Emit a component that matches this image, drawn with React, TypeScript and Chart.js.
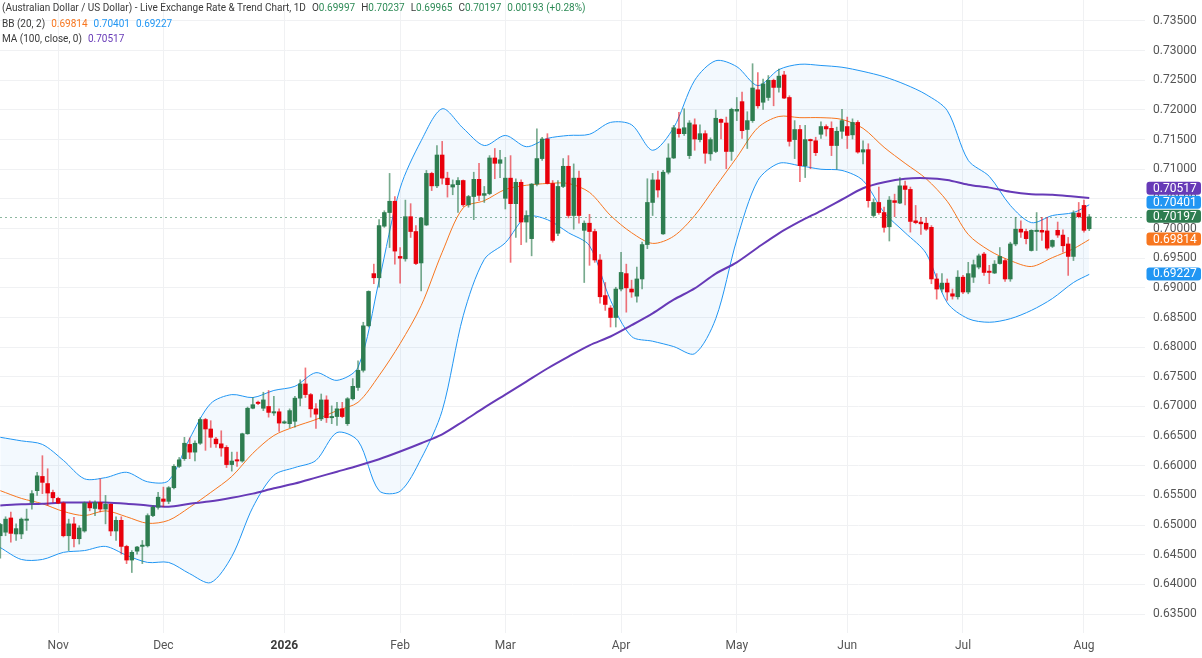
import React, { useEffect, useRef } from 'react';
import { Chart, registerables } from 'chart.js';

Chart.register(...registerables);

// ---- Daily candles (trading-day index 0 = first visible candle, Oct 2025 .. 4 Aug 2026) ----
const OPEN = [
  0.6482, 0.6488, 0.6512, 0.6485, 0.6485, 0.6508, 0.6538, 0.6558, 0.6582, 0.6570,
  0.6555, 0.6545, 0.6537, 0.6482, 0.6502, 0.6477, 0.6490, 0.6537, 0.6528, 0.6538,
  0.6527, 0.6535, 0.6490, 0.6508, 0.6464, 0.6441, 0.6456, 0.6464, 0.6465, 0.6516,
  0.6530, 0.6544, 0.6540, 0.6563, 0.6599, 0.6612, 0.6636, 0.6623, 0.6638, 0.6678,
  0.6662, 0.6645, 0.6637, 0.6631, 0.6602, 0.6610, 0.6608, 0.6654, 0.6697, 0.6707,
  0.6697, 0.6700, 0.6689, 0.6691, 0.6672, 0.6671, 0.6675, 0.6714, 0.6738, 0.6720,
  0.6696, 0.6679, 0.6711, 0.6681, 0.6683, 0.6696, 0.6671, 0.6713, 0.6732, 0.6761,
  0.6836, 0.6924, 0.6917, 0.7004, 0.7027, 0.7046, 0.6953, 0.6949, 0.7020, 0.6995,
  0.6942, 0.7006, 0.7093, 0.7072, 0.7124, 0.7085, 0.7070, 0.7074, 0.7081, 0.7040,
  0.7054, 0.7083, 0.7056, 0.7059, 0.7119, 0.7110, 0.7051, 0.7085, 0.7042, 0.7078,
  0.7011, 0.6983, 0.7075, 0.7118, 0.7151, 0.7076, 0.6992, 0.7071, 0.7105, 0.7022,
  0.7085, 0.6997, 0.7009, 0.6995, 0.6947, 0.6887, 0.6866, 0.6850, 0.6898, 0.6924,
  0.6898, 0.6886, 0.6915, 0.6973, 0.7044, 0.7082, 0.6991, 0.7095, 0.7119, 0.7168,
  0.7160, 0.7123, 0.7175, 0.7150, 0.7160, 0.7126, 0.7130, 0.7184, 0.7178, 0.7130,
  0.7198, 0.7214, 0.7167, 0.7182, 0.7234, 0.7213, 0.7221, 0.7250, 0.7238, 0.7259,
  0.7221, 0.7150, 0.7167, 0.7106, 0.7150, 0.7148, 0.7159, 0.7172, 0.7169, 0.7140,
  0.7164, 0.7172, 0.7158, 0.7179, 0.7129, 0.7133, 0.7022, 0.7044, 0.7027, 0.7003,
  0.7047, 0.7043, 0.7072, 0.7066, 0.7013, 0.7011, 0.7009, 0.7002, 0.6915, 0.6898,
  0.6908, 0.6890, 0.6885, 0.6918, 0.6893, 0.6918, 0.6935, 0.6957, 0.6928, 0.6925,
  0.6941, 0.6946, 0.6915, 0.6974, 0.6999, 0.6995, 0.6963, 0.6995, 0.6997, 0.6996,
  0.6970, 0.6997, 0.6989, 0.6974, 0.6953, 0.7026, 0.7039, 0.69997,
];
const HIGH = [
  0.6503, 0.6514, 0.6522, 0.6502, 0.6512, 0.6527, 0.6558, 0.6589, 0.6617, 0.6595,
  0.6559, 0.6547, 0.6539, 0.6510, 0.6513, 0.6499, 0.6539, 0.6541, 0.6541, 0.6578,
  0.6550, 0.6536, 0.6514, 0.6514, 0.6466, 0.6457, 0.6464, 0.6474, 0.6519, 0.6533,
  0.6555, 0.6564, 0.6565, 0.6602, 0.6614, 0.6648, 0.6647, 0.6642, 0.6681, 0.6680,
  0.6676, 0.6648, 0.6659, 0.6634, 0.6623, 0.6623, 0.6655, 0.6699, 0.6715, 0.6709,
  0.6724, 0.6727, 0.6717, 0.6696, 0.6676, 0.6696, 0.6717, 0.6745, 0.6765, 0.6722,
  0.6705, 0.6721, 0.6718, 0.6701, 0.6707, 0.6707, 0.6715, 0.6747, 0.6777, 0.6842,
  0.6895, 0.6940, 0.7015, 0.7030, 0.7093, 0.7054, 0.6968, 0.7048, 0.7042, 0.7005,
  0.7019, 0.7098, 0.7095, 0.7140, 0.7147, 0.7095, 0.7082, 0.7086, 0.7082, 0.7056,
  0.7095, 0.7110, 0.7071, 0.7123, 0.7135, 0.7132, 0.7120, 0.7123, 0.7084, 0.7082,
  0.7030, 0.7076, 0.7168, 0.7154, 0.7160, 0.7081, 0.7081, 0.7118, 0.7123, 0.7109,
  0.7097, 0.7013, 0.7024, 0.6999, 0.6956, 0.6909, 0.6870, 0.6901, 0.6960, 0.6940,
  0.6913, 0.6935, 0.6977, 0.7084, 0.7093, 0.7097, 0.7098, 0.7143, 0.7174, 0.7196,
  0.7202, 0.7182, 0.7185, 0.7175, 0.7165, 0.7153, 0.7200, 0.7185, 0.7188, 0.7203,
  0.7221, 0.7230, 0.7197, 0.7278, 0.7263, 0.7252, 0.7258, 0.7252, 0.7269, 0.7265,
  0.7224, 0.7182, 0.7174, 0.7174, 0.7151, 0.7154, 0.7180, 0.7175, 0.7180, 0.7171,
  0.7201, 0.7188, 0.7185, 0.7182, 0.7148, 0.7143, 0.7050, 0.7070, 0.7036, 0.7054,
  0.7058, 0.7086, 0.7080, 0.7070, 0.7039, 0.7019, 0.7018, 0.7005, 0.6924, 0.6924,
  0.6915, 0.6898, 0.6929, 0.6921, 0.6943, 0.6947, 0.6957, 0.6960, 0.6938, 0.6946,
  0.6968, 0.6949, 0.6977, 0.7019, 0.7013, 0.6999, 0.6998, 0.7027, 0.7019, 0.7019,
  0.6981, 0.7011, 0.6998, 0.6985, 0.7030, 0.7044, 0.7048, 0.70237,
];
const LOW = [
  0.6444, 0.6482, 0.6471, 0.6474, 0.6477, 0.6491, 0.6527, 0.6550, 0.6553, 0.6533,
  0.6538, 0.6536, 0.6480, 0.6457, 0.6463, 0.6468, 0.6488, 0.6524, 0.6516, 0.6522,
  0.6502, 0.6482, 0.6474, 0.6451, 0.6435, 0.6420, 0.6451, 0.6435, 0.6463, 0.6514,
  0.6527, 0.6531, 0.6536, 0.6561, 0.6597, 0.6609, 0.6612, 0.6608, 0.6636, 0.6626,
  0.6631, 0.6631, 0.6616, 0.6597, 0.6591, 0.6599, 0.6606, 0.6653, 0.6696, 0.6703,
  0.6693, 0.6682, 0.6685, 0.6658, 0.6671, 0.6664, 0.6665, 0.6701, 0.6715, 0.6682,
  0.6663, 0.6676, 0.6673, 0.6671, 0.6668, 0.6681, 0.6668, 0.6711, 0.6727, 0.6758,
  0.6834, 0.6907, 0.6901, 0.7002, 0.6968, 0.6940, 0.6908, 0.6945, 0.6985, 0.6939,
  0.6895, 0.7005, 0.7064, 0.7069, 0.7075, 0.7053, 0.7057, 0.7027, 0.7037, 0.7036,
  0.7015, 0.7047, 0.7044, 0.7057, 0.7084, 0.7086, 0.7033, 0.6943, 0.6985, 0.6973,
  0.6977, 0.6954, 0.7072, 0.7115, 0.7075, 0.6977, 0.6988, 0.7069, 0.7018, 0.6999,
  0.7009, 0.6909, 0.6938, 0.6943, 0.6874, 0.6862, 0.6834, 0.6834, 0.6895, 0.6859,
  0.6884, 0.6876, 0.6898, 0.6966, 0.7022, 0.7053, 0.6990, 0.7092, 0.7118, 0.7154,
  0.7157, 0.7118, 0.7132, 0.7146, 0.7110, 0.7115, 0.7128, 0.7151, 0.7101, 0.7115,
  0.7182, 0.7152, 0.7135, 0.7179, 0.7203, 0.7201, 0.7216, 0.7207, 0.7230, 0.7219,
  0.7139, 0.7118, 0.7079, 0.7086, 0.7101, 0.7123, 0.7152, 0.7156, 0.7123, 0.7100,
  0.7152, 0.7135, 0.7151, 0.7127, 0.7109, 0.7036, 0.7019, 0.7024, 0.6994, 0.6979,
  0.7020, 0.7042, 0.7040, 0.6994, 0.7008, 0.6990, 0.6997, 0.6907, 0.6881, 0.6893,
  0.6879, 0.6881, 0.6881, 0.6890, 0.6890, 0.6909, 0.6932, 0.6921, 0.6907, 0.6924,
  0.6940, 0.6911, 0.6911, 0.6971, 0.6985, 0.6974, 0.6962, 0.6963, 0.6980, 0.6964,
  0.6968, 0.6985, 0.6960, 0.6921, 0.6946, 0.7018, 0.6994, 0.69965,
];
const CLOSE = [
  0.6501, 0.6510, 0.6486, 0.6494, 0.6510, 0.6510, 0.6553, 0.6583, 0.6572, 0.6554,
  0.6546, 0.6537, 0.6482, 0.6502, 0.6477, 0.6495, 0.6537, 0.6529, 0.6538, 0.6527,
  0.6535, 0.6490, 0.6508, 0.6464, 0.6441, 0.6454, 0.6463, 0.6466, 0.6516, 0.6530,
  0.6547, 0.6540, 0.6563, 0.6599, 0.6610, 0.6638, 0.6623, 0.6638, 0.6678, 0.6662,
  0.6648, 0.6637, 0.6630, 0.6602, 0.6608, 0.6608, 0.6654, 0.6697, 0.6703, 0.6705,
  0.6711, 0.6690, 0.6691, 0.6672, 0.6673, 0.6693, 0.6714, 0.6738, 0.6720, 0.6696,
  0.6687, 0.6711, 0.6681, 0.6683, 0.6696, 0.6683, 0.6713, 0.6734, 0.6761, 0.6836,
  0.6894, 0.6917, 0.7005, 0.7027, 0.7046, 0.6962, 0.6950, 0.7020, 0.6995, 0.6941,
  0.7018, 0.7093, 0.7072, 0.7124, 0.7085, 0.7074, 0.7074, 0.7081, 0.7040, 0.7054,
  0.7083, 0.7056, 0.7059, 0.7119, 0.7110, 0.7116, 0.7085, 0.7042, 0.7078, 0.7011,
  0.7022, 0.7075, 0.7118, 0.7151, 0.7076, 0.6980, 0.7071, 0.7105, 0.7022, 0.7085,
  0.7022, 0.7009, 0.6995, 0.6947, 0.6885, 0.6872, 0.6850, 0.6898, 0.6926, 0.6900,
  0.6893, 0.6915, 0.6973, 0.7044, 0.7082, 0.7065, 0.7095, 0.7119, 0.7170, 0.7160,
  0.7170, 0.7178, 0.7151, 0.7160, 0.7127, 0.7150, 0.7186, 0.7179, 0.7130, 0.7201,
  0.7201, 0.7165, 0.7182, 0.7237, 0.7207, 0.7244, 0.7250, 0.7238, 0.7257, 0.7220,
  0.7147, 0.7167, 0.7106, 0.7150, 0.7148, 0.7128, 0.7172, 0.7168, 0.7140, 0.7164,
  0.7182, 0.7157, 0.7179, 0.7129, 0.7133, 0.7047, 0.7044, 0.7027, 0.7002, 0.7048,
  0.7044, 0.7072, 0.7066, 0.7012, 0.7010, 0.7008, 0.6999, 0.6915, 0.6898, 0.6908,
  0.6893, 0.6886, 0.6918, 0.6893, 0.6924, 0.6939, 0.6954, 0.6926, 0.6926, 0.6940,
  0.6953, 0.6915, 0.6974, 0.6999, 0.6994, 0.6983, 0.6997, 0.6997, 0.6994, 0.6967,
  0.6980, 0.6989, 0.6971, 0.6953, 0.7026, 0.7020, 0.6997, 0.70197,
];

// ---- Indicator lines, read at every 4th trading day ----
const LINE_IDX = [
  0, 4, 8, 12, 16, 20, 24, 28, 32, 36, 40, 44, 48, 52, 56, 60, 64, 68, 72, 76,
  80, 84, 88, 92, 96, 100, 104, 108, 112, 116, 120, 124, 128, 132, 136, 140, 144,
  148, 152, 156, 160, 164, 168, 172, 176, 180, 184, 188, 192, 196, 200, 204, 207,
];
const BB_UPPER = [
  0.6648, 0.6642, 0.6636, 0.6609, 0.6578, 0.6580, 0.6589, 0.6573, 0.6575, 0.6646,
  0.6705, 0.6720, 0.6715, 0.6727, 0.6734, 0.6757, 0.6744, 0.6766, 0.6912, 0.7068,
  0.7148, 0.7202, 0.7169, 0.7140, 0.7157, 0.7138, 0.7152, 0.7157, 0.7159, 0.7179,
  0.7175, 0.7132, 0.7170, 0.7250, 0.7283, 0.7273, 0.7241, 0.7268, 0.7277, 0.7275,
  0.7272, 0.7265, 0.7256, 0.7243, 0.7226, 0.7199, 0.7115, 0.7088, 0.7039, 0.7010,
  0.7022, 0.7027, 0.70401,
];
const BB_MIDDLE = [
  0.6558, 0.6545, 0.6536, 0.6523, 0.6516, 0.6524, 0.6514, 0.6503, 0.6508, 0.6530,
  0.6555, 0.6582, 0.6621, 0.6651, 0.6666, 0.6678, 0.6693, 0.6707, 0.6752, 0.6806,
  0.6870, 0.6960, 0.7035, 0.7047, 0.7066, 0.7073, 0.7076, 0.7076, 0.7061, 0.7022,
  0.6993, 0.6975, 0.6987, 0.7022, 0.7071, 0.7120, 0.7170, 0.7189, 0.7187, 0.7187,
  0.7184, 0.7169, 0.7137, 0.7110, 0.7084, 0.7046, 0.6990, 0.6963, 0.6946, 0.6936,
  0.6951, 0.6966, 0.69814,
];
const BB_LOWER = [
  0.6462, 0.6442, 0.6442, 0.6454, 0.6457, 0.6464, 0.6449, 0.6437, 0.6437, 0.6418,
  0.6403, 0.6447, 0.6530, 0.6584, 0.6597, 0.6609, 0.6656, 0.6642, 0.6558, 0.6557,
  0.6612, 0.6693, 0.6853, 0.6948, 0.6976, 0.7020, 0.7015, 0.6993, 0.6971, 0.6879,
  0.6818, 0.6810, 0.6801, 0.6789, 0.6848, 0.6981, 0.7081, 0.7110, 0.7106, 0.7100,
  0.7098, 0.7081, 0.7027, 0.6993, 0.6958, 0.6875, 0.6848, 0.6842, 0.6848, 0.6862,
  0.6882, 0.6909, 0.69227,
];
const MA_100 = [
  0.6533, 0.6535, 0.6536, 0.6538, 0.6538, 0.6538, 0.6536, 0.6533, 0.6531, 0.6536,
  0.6540, 0.6546, 0.6553, 0.6562, 0.6570, 0.6580, 0.6590, 0.6600, 0.6611, 0.6624,
  0.6638, 0.6653, 0.6675, 0.6698, 0.6720, 0.6742, 0.6764, 0.6784, 0.6803, 0.6818,
  0.6837, 0.6857, 0.6880, 0.6899, 0.6924, 0.6943, 0.6968, 0.6992, 0.7012, 0.7030,
  0.7049, 0.7068, 0.7078, 0.7084, 0.7085, 0.7082, 0.7074, 0.7069, 0.7062, 0.7058,
  0.7057, 0.7054, 0.70517,
];

// ---- Axis ticks ----
const MONTH_TICK_INDEX = [11, 31, 54, 76, 96, 118, 140, 161, 183, 206];
const MONTH_TICK_LABELS = ['Nov', 'Dec', '2026', 'Feb', 'Mar', 'Apr', 'May', 'Jun', 'Jul', 'Aug'];
const Y_TICKS = [
  0.635, 0.64, 0.645, 0.65, 0.655, 0.66, 0.665, 0.67, 0.675, 0.68, 0.685, 0.69,
  0.695, 0.7, 0.705, 0.71, 0.715, 0.72, 0.725, 0.73, 0.735,
];

// ---- Header values ----
const LAST_OPEN = 0.69997;
const LAST_HIGH = 0.70237;
const LAST_LOW = 0.69965;
const LAST_CLOSE = 0.70197;
const LAST_CHANGE = 0.00193;
const LAST_CHANGE_PCT = 0.28;
const BB_LAST = [0.69814, 0.70401, 0.69227]; // middle, upper, lower
const MA_LAST = 0.70517;

const GREEN = '#2E7D50';
const GREEN_TXT = '#2E8B57';
const RED = '#E8000B';
const BLUE = '#2196F3';
const ORANGE = '#F7761F';
const PURPLE = '#673AB7';
const GRID = '#F0F1F3';
const FONT = 'Roboto, "Liberation Sans", Arial, sans-serif';

const overlayPlugin = {
  id: 'priceOverlay',
  beforeDatasetsDraw(chart: any) {
    const { ctx, chartArea } = chart;
    const y = Math.round(chart.scales.y.getPixelForValue(LAST_CLOSE)) + 0.5;
    ctx.save();
    ctx.setLineDash([2, 3]);
    ctx.strokeStyle = 'rgba(46,125,80,0.55)';
    ctx.lineWidth = 1;
    ctx.beginPath();
    ctx.moveTo(chartArea.left, y);
    ctx.lineTo(chartArea.right, y);
    ctx.stroke();
    ctx.restore();
  },
  afterDraw(chart: any) {
    const { ctx, chartArea } = chart;
    const ys = chart.scales.y;
    const tags = [
      { v: MA_LAST, c: PURPLE },
      { v: BB_LAST[1], c: BLUE },
      { v: LAST_CLOSE, c: GREEN },
      { v: BB_LAST[0], c: ORANGE },
      { v: BB_LAST[2], c: BLUE },
    ].map((t) => ({ ...t, y: ys.getPixelForValue(t.v) }));
    tags.sort((a, b) => b.y - a.y);
    const H = 14;
    for (let i = 1; i < tags.length; i++) {
      tags[i].y = Math.min(tags[i].y, tags[i - 1].y - H);
    }
    ctx.save();
    const x0 = chartArea.right + 1.5;
    const w = 54.5;
    tags.forEach((t) => {
      const top = t.y - H / 2;
      ctx.fillStyle = t.c;
      ctx.beginPath();
      if ((ctx as any).roundRect) (ctx as any).roundRect(x0, top, w, H - 1, 3);
      else ctx.rect(x0, top, w, H - 1);
      ctx.fill();
      ctx.fillStyle = '#FFFFFF';
      ctx.font = `12px ${FONT}`;
      ctx.textAlign = 'left';
      ctx.textBaseline = 'middle';
      ctx.fillText(t.v.toFixed(5), chartArea.right + 8, top + (H - 1) / 2 + 0.5);
    });
    ctx.restore();
  },
};

export default function App() {
  const ref = useRef<HTMLCanvasElement>(null);

  useEffect(() => {
    const canvas = ref.current;
    if (!canvas) return;
    const up = CLOSE.map((c, i) => c >= OPEN[i]);
    const line = (vals: number[]) => LINE_IDX.map((x, i) => ({ x, y: vals[i] }));

    const chart = new Chart(canvas, {
      type: 'line',
      data: {
        datasets: [
          {
            type: 'line',
            label: 'BB upper',
            data: line(BB_UPPER),
            borderColor: BLUE,
            borderWidth: 1,
            backgroundColor: 'rgba(33,150,243,0.055)',
            fill: '+1',
            pointRadius: 0,
            tension: 0.3,
            order: 6,
          },
          {
            type: 'line',
            label: 'BB lower',
            data: line(BB_LOWER),
            borderColor: BLUE,
            borderWidth: 1,
            fill: false,
            pointRadius: 0,
            tension: 0.3,
            order: 6,
          },
          {
            type: 'line',
            label: 'BB basis',
            data: line(BB_MIDDLE),
            borderColor: ORANGE,
            borderWidth: 1,
            fill: false,
            pointRadius: 0,
            tension: 0.3,
            order: 5,
          },
          {
            type: 'line',
            label: 'MA 100',
            data: line(MA_100),
            borderColor: PURPLE,
            borderWidth: 2,
            fill: false,
            pointRadius: 0,
            tension: 0.3,
            order: 4,
          },
          {
            type: 'bar',
            label: 'wicks',
            data: OPEN.map((_, i) => ({ x: i, y: [LOW[i], HIGH[i]] })),
            backgroundColor: up.map((u) => (u ? 'rgba(46,125,80,0.65)' : 'rgba(232,0,11,0.55)')),
            barThickness: 1,
            grouped: false,
            borderWidth: 0,
            order: 2,
          },
          {
            type: 'bar',
            label: 'bodies',
            data: OPEN.map((o, i) => ({ x: i, y: [o, CLOSE[i]] })),
            backgroundColor: up.map((u) => (u ? GREEN : RED)),
            barThickness: 3.8,
            minBarLength: 1.3,
            grouped: false,
            borderWidth: 0,
            order: 1,
          },
        ] as any,
      },
      options: {
        animation: false,
        responsive: false,
        maintainAspectRatio: false,
        events: [],
        layout: { padding: 0, autoPadding: false },
        plugins: {
          legend: { display: false },
          tooltip: { enabled: false },
        },
        scales: {
          x: {
            type: 'linear',
            min: -0.06,
            max: 217.6,
            offset: false,
            grid: { color: GRID, drawTicks: false, offset: false },
            border: { display: false },
            afterBuildTicks: (s: any) => {
              s.ticks = MONTH_TICK_INDEX.map((v) => ({ value: v }));
            },
            afterFit: (s: any) => {
              s.height = 25;
              s.paddingLeft = 0;
              s.paddingRight = 0;
              s.paddingTop = 0;
              s.paddingBottom = 0;
            },
            ticks: {
              autoSkip: false,
              maxRotation: 0,
              padding: 6,
              color: (c: any) => (MONTH_TICK_LABELS[c.index] === '2026' ? '#3A3A3A' : '#555555'),
              font: (c: any) =>
                MONTH_TICK_LABELS[c.index] === '2026'
                  ? { family: FONT, size: 12, weight: 'bold' }
                  : { family: FONT, size: 12 },
              callback: (_v: any, i: number) => MONTH_TICK_LABELS[i] ?? '',
            },
          },
          y: {
            type: 'linear',
            position: 'right',
            min: 0.6318,
            max: 0.73854,
            grid: { color: GRID, drawTicks: false },
            border: { display: false },
            afterBuildTicks: (s: any) => {
              s.ticks = Y_TICKS.map((v) => ({ value: v }));
            },
            afterFit: (s: any) => {
              s.width = 57;
              s.paddingTop = 0;
              s.paddingBottom = 0;
              s.paddingLeft = 0;
              s.paddingRight = 0;
            },
            ticks: {
              padding: 8,
              crossAlign: 'near',
              color: '#555555',
              font: { family: FONT, size: 12 },
              callback: (v: any) => Number(v).toFixed(5),
            },
          },
        } as any,
      },
      plugins: [overlayPlugin],
    });
    return () => chart.destroy();
  }, []);

  const lbl: React.CSSProperties = { color: '#3A3A3A' };
  const gap: React.CSSProperties = { marginLeft: 6 };

  return (
    <div style={{ position: 'fixed', left: 0, top: 0, width: 1202, height: 658, background: '#FFFFFF', overflow: 'hidden' }}>
      <canvas ref={ref} width={1202} height={658} style={{ display: 'block', width: 1202, height: 658 }} />
      <div
        style={{
          position: 'absolute',
          left: 2,
          top: 0,
          font: `10px ${FONT}`,
          lineHeight: '15.5px',
          color: '#3A3A3A',
          whiteSpace: 'nowrap',
          pointerEvents: 'none',
        }}
      >
        <div>
          <span style={lbl}>(Australian Dollar / US Dollar) - Live Exchange Rate &amp; Trend Chart, 1D</span>
          <span style={gap}>O<span style={{ color: GREEN_TXT }}>{LAST_OPEN.toFixed(5)}</span></span>
          <span style={gap}>H<span style={{ color: GREEN_TXT }}>{LAST_HIGH.toFixed(5)}</span></span>
          <span style={gap}>L<span style={{ color: GREEN_TXT }}>{LAST_LOW.toFixed(5)}</span></span>
          <span style={gap}>C<span style={{ color: GREEN_TXT }}>{LAST_CLOSE.toFixed(5)}</span></span>
          <span style={{ ...gap, color: GREEN_TXT }}>
            {LAST_CHANGE.toFixed(5)} (+{LAST_CHANGE_PCT.toFixed(2)}%)
          </span>
        </div>
        <div>
          <span>BB (20, 2)</span>
          <span style={{ ...gap, color: ORANGE }}>{BB_LAST[0].toFixed(5)}</span>
          <span style={{ ...gap, color: BLUE }}>{BB_LAST[1].toFixed(5)}</span>
          <span style={{ ...gap, color: BLUE }}>{BB_LAST[2].toFixed(5)}</span>
        </div>
        <div>
          <span>MA (100, close, 0)</span>
          <span style={{ ...gap, color: PURPLE }}>{MA_LAST.toFixed(5)}</span>
        </div>
      </div>
    </div>
  );
}
